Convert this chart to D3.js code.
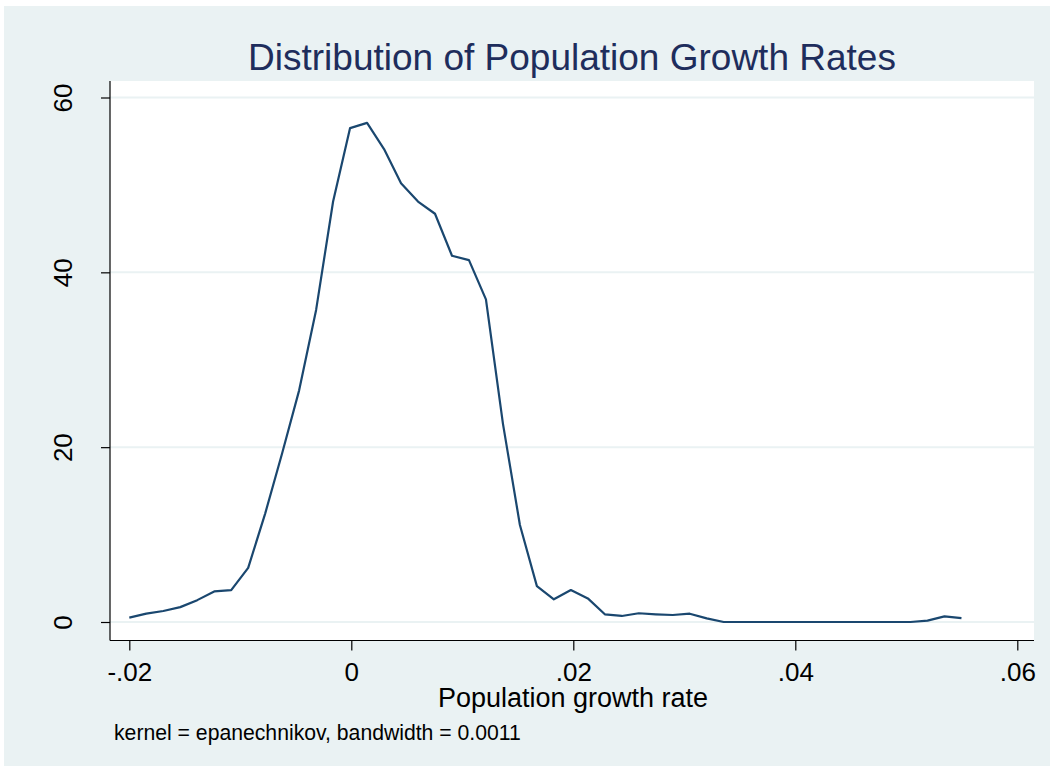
<!DOCTYPE html>
<html>
<head>
<meta charset="utf-8">
<script src="https://cdn.jsdelivr.net/npm/d3@7"></script>
<style>
  html, body { margin: 0; padding: 0; background: #ffffff; }
  svg { display: block; font-family: "Liberation Sans", Arial, sans-serif; }
</style>
</head>
<body>
<svg id="chart" width="1056" height="772"></svg>
<script>
// Kernel density estimate of population growth rates (50 evaluation points)
const growthRate = [
  -0.02000, -0.01847, -0.01694, -0.01541, -0.01388, -0.01235, -0.01082, -0.00929, -0.00776, -0.00623,
  -0.00470, -0.00317, -0.00164, -0.00011,  0.00142,  0.00295,  0.00448,  0.00601,  0.00754,  0.00907,
   0.01060,  0.01213,  0.01366,  0.01519,  0.01672,  0.01825,  0.01978,  0.02131,  0.02284,  0.02437,
   0.02590,  0.02743,  0.02896,  0.03049,  0.03202,  0.03355,  0.03508,  0.03661,  0.03814,  0.03967,
   0.04120,  0.04273,  0.04426,  0.04579,  0.04732,  0.04885,  0.05038,  0.05191,  0.05344,  0.05497
];
const density = [
  0.5, 0.95, 1.26, 1.7, 2.5, 3.5, 3.65, 6.2, 12.4, 19.3,
  26.5, 35.7, 48.1, 56.5, 57.1, 54.1, 50.2, 48.1, 46.7, 41.9,
  41.4, 36.9, 22.7, 11.1, 4.1, 2.6, 3.66, 2.7, 0.88, 0.69,
  1.0, 0.88, 0.80, 0.95, 0.42, 0.0, 0.0, 0.0, 0.0, 0.0,
  0.0, 0.0, 0.0, 0.0, 0.0, 0.0, 0.0, 0.15, 0.65, 0.45
];
const xTicks = [-0.02, 0, 0.02, 0.04, 0.06];
const xTickLabels = ["-.02", "0", ".02", ".04", ".06"];
const yTicks = [0, 20, 40, 60];
const yTickLabels = ["0", "20", "40", "60"];

const titleText = "Distribution of Population Growth Rates";
const xAxisTitle = "Population growth rate";
const noteText = "kernel = epanechnikov, bandwidth = 0.0011";

// Colours of the s2color-style scheme
const graphBg = "#eaf2f3";
const gridColor = "#eaf2f3";
const lineColor = "#1a476f";
const titleColor = "#1e2d5c";

const svg = d3.select("#chart");
const W = 1056, H = 772;

// Plot region box
const plot = { left: 110, right: 1034, top: 81, bottom: 640.5 };

const x = d3.scaleLinear().domain([-0.02, 0.06]).range([129.3, 1017.3]);
const y = d3.scaleLinear().domain([0, 60]).range([622, 97.5]);

// Graph region background
svg.append("rect").attr("x", 4).attr("y", 6).attr("width", W - 10).attr("height", H - 12)
  .attr("fill", graphBg);

// Plot region
svg.append("rect")
  .attr("x", plot.left).attr("y", plot.top)
  .attr("width", plot.right - plot.left).attr("height", plot.bottom - plot.top)
  .attr("fill", "#ffffff");

// Horizontal grid lines
svg.append("g").selectAll("line").data(yTicks).join("line")
  .attr("x1", plot.left).attr("x2", plot.right)
  .attr("y1", d => y(d)).attr("y2", d => y(d))
  .attr("stroke", gridColor).attr("stroke-width", 2);

// Density curve
const line = d3.line().x(d => x(d[0])).y(d => y(d[1]));
svg.append("path")
  .datum(growthRate.map((g, i) => [g, density[i]]))
  .attr("d", line)
  .attr("fill", "none")
  .attr("stroke", lineColor)
  .attr("stroke-width", 2.2)
  .attr("stroke-linejoin", "round");

// Y axis
const yAxis = svg.append("g").attr("transform", `translate(${plot.left},0)`)
  .call(d3.axisLeft(y).tickValues(yTicks).tickSize(9).tickFormat((d, i) => yTickLabels[i]));
yAxis.select(".domain").remove();
yAxis.selectAll(".tick line").attr("stroke", "#000").attr("stroke-width", 1.2);
yAxis.selectAll(".tick text")
  .attr("transform", "rotate(-90)")
  .attr("x", 0).attr("y", -38).attr("dy", 0)
  .attr("text-anchor", "middle")
  .attr("font-size", 26).attr("fill", "#000")
  .attr("font-family", "'Liberation Sans', Arial, sans-serif");
yAxis.append("line")
  .attr("x1", 0).attr("x2", 0).attr("y1", plot.top).attr("y2", plot.bottom)
  .attr("stroke", "#000").attr("stroke-width", 1.2);

// X axis
const xAxis = svg.append("g").attr("transform", `translate(0,${plot.bottom})`)
  .call(d3.axisBottom(x).tickValues(xTicks).tickSize(10).tickFormat((d, i) => xTickLabels[i]));
xAxis.select(".domain").remove();
xAxis.selectAll(".tick line").attr("stroke", "#000").attr("stroke-width", 1.2);
xAxis.selectAll(".tick text")
  .attr("y", 40.5).attr("dy", 0)
  .attr("font-size", 26).attr("fill", "#000")
  .attr("font-family", "'Liberation Sans', Arial, sans-serif");
xAxis.append("line")
  .attr("x1", plot.left).attr("x2", plot.right).attr("y1", 0).attr("y2", 0)
  .attr("stroke", "#000").attr("stroke-width", 1.2);

const plotCenter = (plot.left + plot.right) / 2;

// Title
svg.append("text")
  .attr("x", plotCenter).attr("y", 70)
  .attr("text-anchor", "middle")
  .attr("font-size", 37).attr("fill", titleColor)
  .text(titleText);

// X axis title
svg.append("text")
  .attr("x", plotCenter + 1).attr("y", 707)
  .attr("text-anchor", "middle")
  .attr("font-size", 27).attr("fill", "#000")
  .text(xAxisTitle);

// Note
svg.append("text")
  .attr("x", 114).attr("y", 740)
  .attr("font-size", 21.2).attr("fill", "#000")
  .text(noteText);
</script>
</body>
</html>
